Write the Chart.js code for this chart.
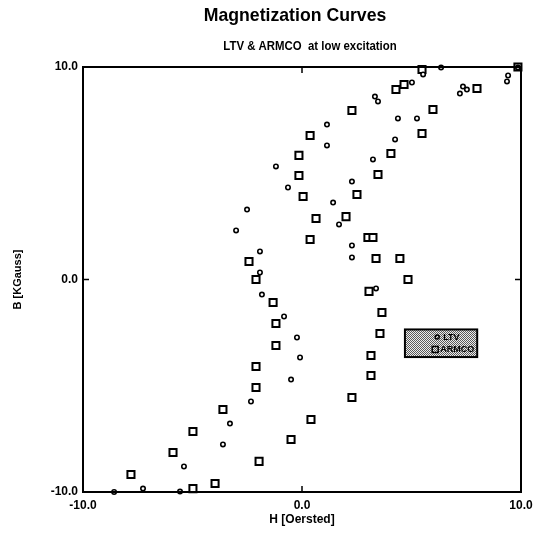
<!DOCTYPE html>
<html>
<head>
<meta charset="utf-8">
<script src="https://cdn.jsdelivr.net/npm/chart.js@4"></script>
<style>
html,body{margin:0;padding:0;background:#fff;}
#wrap{width:535px;height:541px;}
</style>
</head>
<body>
<div id="wrap"><canvas id="c" width="535" height="541"></canvas></div>
<script>
// ---- data ----
const titleText = "Magnetization Curves";
const subtitleText = "LTV & ARMCO  at low excitation";
const xAxisTitle = "H [Oersted]";
const yAxisTitle = "B [KGauss]";
const seriesNames = ["LTV", "ARMCO"];
const tickValues = [-10, 0, 10];

const ltvH = [9.86, 9.41, 9.36, 7.35, 7.53, 7.21, 6.35, 5.53, 5.02, 3.33, 3.47, 5.25, 4.38, 4.25, 3.24, 2.28, 1.42, 1.69, 2.28, 2.28,
              1.14, 1.14, -1.19, -0.64, -2.51, -3.01, -1.92, -1.92, 3.38, -1.83, -0.82, -0.23, -0.09, -0.50, -2.33, -3.29, -3.61, -5.39, -7.26, -5.57, -8.58];
const ltvB = [9.98, 9.60, 9.32, 9.08, 8.94, 8.75, 9.98, 9.65, 9.27, 8.61, 8.38, 7.58, 7.58, 6.59, 5.65, 4.61, 3.62, 2.59, 1.60, 1.04,
              7.29, 6.31, 5.32, 4.33, 3.29, 2.31, 1.32, 0.33, -0.42, -0.71, -1.74, -2.73, -3.67, -4.71, -5.74, -6.78, -7.76, -8.80, -9.84, -9.98, -10.0];

const armcoH = [9.86, 5.48, 4.66, 4.29, 7.99, 5.98, 2.28, 5.48, 0.37, 4.06, -0.14, 3.47, -0.14, 2.51, 0.05, 2.01, 0.64, 3.01, 3.24, 0.37,
                3.38, 4.47, -2.42, 4.84, -2.10, 3.06, -1.32, 3.65, -1.19, 3.56, -1.19, 3.15, -2.10, 3.15, -2.10, 2.28, -3.61, 0.41, -4.98, -0.50,
                -5.89, -1.96, -7.81, -3.97, -4.98];
const armcoB = [10.0, 9.88, 9.18, 8.94, 8.99, 8.00, 7.95, 6.87, 6.78, 5.93, 5.84, 4.94, 4.89, 4.00, 3.91, 2.96, 2.87, 1.98, 1.98, 1.88,
                0.99, 0.99, 0.85, 0.00, 0.00, -0.56, -1.08, -1.55, -2.07, -2.54, -3.11, -3.58, -4.09, -4.52, -5.08, -5.55, -6.12, -6.59, -7.15, -7.53,
                -8.14, -8.56, -9.18, -9.60, -9.84];

const toPts = (xs, ys) => xs.map((x, i) => ({x: x, y: ys[i]}));

const FONT = "'Liberation Sans', Arial, sans-serif";

// pattern for legend
function makePattern(ctx){
  const p = document.createElement('canvas');
  p.width = 2; p.height = 2;
  const pc = p.getContext('2d');
  pc.fillStyle = '#ececec'; pc.fillRect(0,0,2,2);
  pc.fillStyle = '#5a5a5a';
  pc.fillRect(0,0,1,1); pc.fillRect(1,1,1,1);
  return ctx.createPattern(p, 'repeat');
}

const framePlugin = {
  id: 'frame',
  afterDraw(chart){
    const {ctx, chartArea: a, scales} = chart;
    ctx.save();
    // titles
    ctx.fillStyle = '#000';
    ctx.textAlign = 'center';
    ctx.textBaseline = 'middle';
    ctx.save();
    ctx.translate(295, 16);
    ctx.scale(0.93, 1);
    ctx.font = "bold 19px " + FONT;
    ctx.fillText(titleText, 0, 0);
    ctx.restore();
    ctx.save();
    ctx.translate(310, 47);
    ctx.scale(0.95, 1);
    ctx.font = "bold 12px " + FONT;
    ctx.fillText(subtitleText, 0, 0);
    ctx.restore();
    // frame
    ctx.strokeStyle = '#000';
    ctx.lineWidth = 2;
    ctx.strokeRect(a.left, a.top, a.right - a.left, a.bottom - a.top);
    // inward major ticks at 0
    const x0 = scales.x.getPixelForValue(0);
    const y0 = scales.y.getPixelForValue(0);
    ctx.lineWidth = 1.5;
    ctx.beginPath();
    ctx.moveTo(x0, a.bottom); ctx.lineTo(x0, a.bottom - 6);
    ctx.moveTo(x0, a.top); ctx.lineTo(x0, a.top + 6);
    ctx.moveTo(a.left, y0); ctx.lineTo(a.left + 6, y0);
    ctx.moveTo(a.right, y0); ctx.lineTo(a.right - 6, y0);
    ctx.stroke();
    // legend box
    const lx = scales.x.getPixelForValue(4.7), rx = scales.x.getPixelForValue(8.0);
    const ty = scales.y.getPixelForValue(-2.35), by = scales.y.getPixelForValue(-3.65);
    ctx.fillStyle = makePattern(ctx);
    ctx.fillRect(lx, ty, rx - lx, by - ty);
    ctx.lineWidth = 2;
    ctx.strokeStyle = '#000';
    ctx.strokeRect(lx, ty, rx - lx, by - ty);
    ctx.font = "bold 9px " + FONT;
    ctx.fillStyle = '#000';
    ctx.textAlign = 'left';
    const rowH = (by - ty) / 2;
    // row 1: LTV circle
    ctx.lineWidth = 1.5;
    ctx.beginPath(); ctx.arc(rx - 40, ty + rowH * 0.55, 2, 0, Math.PI * 2); ctx.stroke();
    ctx.fillText(seriesNames[0], rx - 34, ty + rowH * 0.55);
    // row 2: ARMCO square
    ctx.strokeRect(rx - 45, ty + rowH * 1.45 - 3, 6, 6);
    ctx.fillText(seriesNames[1], rx - 37, ty + rowH * 1.45);
    ctx.restore();
  }
};

new Chart(document.getElementById('c'), {
  type: 'scatter',
  data: {
    datasets: [
      {
        label: seriesNames[0],
        data: toPts(ltvH, ltvB),
        pointStyle: 'circle',
        pointRadius: 2.2,
        pointBorderWidth: 1.6,
        borderColor: '#000',
        backgroundColor: '#fff',
        clip: false
      },
      {
        label: seriesNames[1],
        data: toPts(armcoH, armcoB),
        pointStyle: 'rect',
        pointRadius: 5,
        pointBorderWidth: 2,
        borderColor: '#000',
        backgroundColor: '#fff',
        clip: false
      }
    ]
  },
  options: {
    responsive: false,
    animation: false,
    events: [],
    layout: { padding: { top: 67, right: 14, left: 0, bottom: 0 } },
    plugins: { legend: { display: false }, title: { display: false }, tooltip: { enabled: false } },
    scales: {
      x: {
        type: 'linear', min: -10, max: 10,
        afterBuildTicks: s => { s.ticks = tickValues.map(v => ({value: v})); },
        afterFit: s => { s.height = 49; s.paddingRight = 0; s.paddingLeft = 0; },
        grid: { display: false, drawTicks: false },
        border: { display: false },
        ticks: {
          color: '#000', padding: 6, maxRotation: 0, autoSkip: false,
          font: { family: FONT, weight: 'bold', size: 12 },
          callback: v => v.toFixed(1)
        },
        title: {
          display: true, text: xAxisTitle, color: '#000',
          font: { family: FONT, weight: 'bold', size: 12 },
          padding: { top: 0, bottom: 14 }
        }
      },
      y: {
        type: 'linear', min: -10, max: 10,
        afterBuildTicks: s => { s.ticks = tickValues.map(v => ({value: v})); },
        afterFit: s => { s.width = 83; s.paddingTop = 0; s.paddingBottom = 0; },
        grid: { display: false, drawTicks: false },
        border: { display: false },
        ticks: {
          color: '#000', padding: 5, autoSkip: false,
          font: { family: FONT, weight: 'bold', size: 12 },
          callback: v => v.toFixed(1)
        },
        title: {
          display: true, text: yAxisTitle, color: '#000',
          font: { family: FONT, weight: 'bold', size: 11 },
          padding: { top: 11, bottom: 0 }
        }
      }
    }
  },
  plugins: [framePlugin]
});
</script>
</body>
</html>
